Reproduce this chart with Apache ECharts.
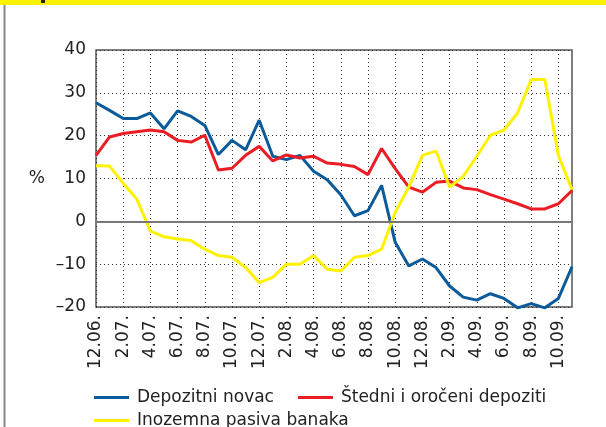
<!DOCTYPE html>
<html>
<head>
<meta charset="utf-8">
<script src="https://cdn.jsdelivr.net/npm/echarts@6/dist/echarts.min.js"></script>
<style>
html,body{margin:0;padding:0;background:#fff;}
#c{width:606px;height:427px;}
</style>
</head>
<body>
<div id="c"></div>
<script>
var categories = ["12.06.","1.07.","2.07.","3.07.","4.07.","5.07.","6.07.","7.07.","8.07.","9.07.","10.07.","11.07.","12.07.",
  "1.08.","2.08.","3.08.","4.08.","5.08.","6.08.","7.08.","8.08.","9.08.","10.08.","11.08.","12.08.",
  "1.09.","2.09.","3.09.","4.09.","5.09.","6.09.","7.09.","8.09.","9.09.","10.09.","11.09."];
var depozitniNovac = [27.7, 25.9, 24.0, 24.0, 25.3, 21.6, 25.8, 24.5, 22.4, 15.6, 18.9, 16.7, 23.6, 15.2, 14.4, 15.4, 11.7, 9.7, 6.2, 1.3, 2.5, 8.4, -4.9, -10.4, -8.8, -10.8, -15.1, -17.7, -18.4, -16.9, -18.0, -20.2, -19.2, -20.2, -18.0, -10.6];
var stedniDepoziti = [15.4, 19.7, 20.5, 20.9, 21.3, 20.9, 18.9, 18.5, 20.1, 12.0, 12.4, 15.4, 17.5, 14.1, 15.5, 14.8, 15.2, 13.6, 13.3, 12.8, 10.9, 17.0, 12.3, 8.0, 6.8, 9.1, 9.4, 7.8, 7.4, 6.25, 5.2, 4.1, 2.9, 2.9, 4.1, 7.2];
var inozemnaPasiva = [13.0, 12.9, 8.9, 5.2, -2.3, -3.6, -4.1, -4.5, -6.5, -8.0, -8.4, -10.8, -14.3, -13.1, -10.0, -10.0, -8.0, -11.2, -11.6, -8.4, -8.0, -6.5, 2.1, 8.0, 15.4, 16.4, 8.0, 10.5, 15.2, 20.1, 21.3, 25.3, 33.1, 33.1, 15.4, 7.4];
var seriesNames = ["Depozitni novac", "Štedni i oročeni depoziti", "Inozemna pasiva banaka"];
var yTicks = {min: -20, max: 40, interval: 10};

var FONT = "DejaVu Sans";
var chart = echarts.init(document.getElementById('c'), null, {renderer: 'canvas'});
var option = {
  animation: false,
  backgroundColor: '#fff',
  textStyle: {fontFamily: FONT},
  grid: {left: 96, right: 34, top: 50, bottom: 120, show: true, borderColor: '#555', borderWidth: 1.5, backgroundColor: 'transparent'},
  xAxis: {
    type: 'category', data: categories, boundaryGap: false,
    axisLine: {show: false},
    axisTick: {show: false},
    axisLabel: {interval: 1, rotate: 90, fontSize: 17, color: '#222', margin: 8, fontFamily: FONT},
    splitLine: {show: true, interval: 1, lineStyle: {color: '#333', type: [1, 3], width: 1}}
  },
  yAxis: {
    type: 'value', min: yTicks.min, max: yTicks.max, interval: yTicks.interval,
    name: '%', nameLocation: 'middle', nameRotate: 0, nameGap: 51,
    nameTextStyle: {fontSize: 17, color: '#222', fontFamily: FONT},
    axisLine: {show: false}, axisTick: {show: false},
    axisLabel: {fontSize: 17, color: '#222', margin: 10, fontFamily: FONT,
      formatter: function(v){ return v < 0 ? '\u2013' + Math.abs(v) : String(v); }},
    splitLine: {show: true, lineStyle: {color: '#333', type: [1, 3], width: 1}}
  },
  legend: [
    {data: [seriesNames[0], seriesNames[1]], left: 89, top: 384, icon: 'rect', itemWidth: 35, itemHeight: 3, itemGap: 24,
     textStyle: {fontSize: 17, color: '#222', fontFamily: FONT, padding: [0,0,0,3]}},
    {data: [seriesNames[2]], left: 89, top: 407, icon: 'rect', itemWidth: 35, itemHeight: 3,
     textStyle: {fontSize: 17, color: '#222', fontFamily: FONT, padding: [0,0,0,3]}}
  ],
  graphic: [
    {type: 'rect', shape: {x: 0, y: 0, width: 606, height: 5}, style: {fill: '#fff200'}, silent: true},
    {type: 'rect', shape: {x: 41, y: 0, width: 4, height: 3}, style: {fill: '#222'}, silent: true},
    {type: 'line', shape: {x1: 4.5, y1: 5, x2: 4.5, y2: 427}, style: {stroke: '#888', lineWidth: 2}, silent: true}
  ],
  series: [
    {name: seriesNames[0], type: 'line', data: depozitniNovac, symbol: 'none', clip: false,
     lineStyle: {color: '#0b5a9a', width: 3}, itemStyle: {color: '#0b5a9a'},
     markLine: {silent: true, symbol: 'none', label: {show: false}, lineStyle: {color: '#777', type: 'solid', width: 2}, data: [{yAxis: 0}]}},
    {name: seriesNames[1], type: 'line', data: stedniDepoziti, symbol: 'none', clip: false,
     lineStyle: {color: '#ec1c24', width: 3}, itemStyle: {color: '#ec1c24'}},
    {name: seriesNames[2], type: 'line', data: inozemnaPasiva, symbol: 'none', clip: false,
     lineStyle: {color: '#fff200', width: 3}, itemStyle: {color: '#fff200'}}
  ]
};
chart.setOption(option);
</script>
</body>
</html>
